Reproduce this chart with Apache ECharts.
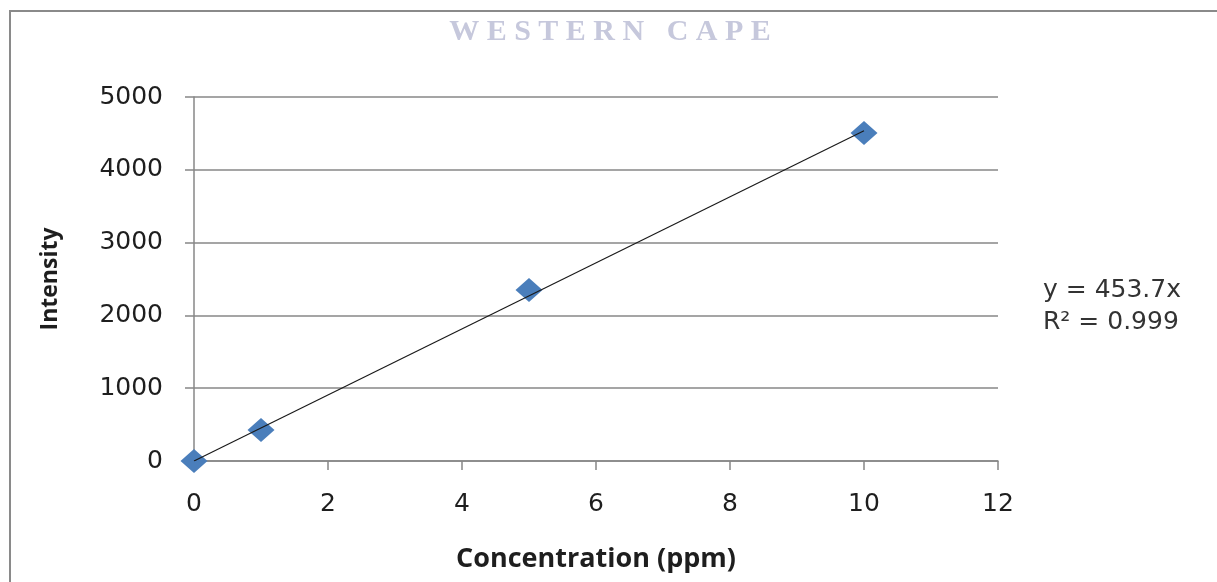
<!DOCTYPE html>
<html>
<head>
<meta charset="utf-8">
<title>Calibration curve</title>
<script src="https://cdn.jsdelivr.net/npm/echarts@6/dist/echarts.min.js"></script>
<style>
  html, body { margin: 0; padding: 0; background: #ffffff; }
  #chart { width: 1217px; height: 582px; }
</style>
</head>
<body>
<div id="chart"></div>
<script>
// Standards: concentration (ppm) and measured intensity
const concentrations = [0, 1, 5, 10];
const intensities = [0, 426, 2349, 4505];

// Linear fit through the origin, as stated in the equation label
const slope = 453.7;
const rSquared = '0.999';
const fitRange = [0, 10];

const xTicks = { min: 0, max: 12, interval: 2 };
const yTicks = { min: 0, max: 5000, interval: 1000 };

const chart = echarts.init(document.getElementById('chart'), null, { renderer: 'canvas' });

const points = concentrations.map((c, i) => [c, intensities[i]]);
const fitLine = fitRange.map(x => [x, slope * x]);

const axisGrey = '#878787';
const textColor = '#1e1e1e';

chart.setOption({
  backgroundColor: '#ffffff',
  animation: false,
  grid: { left: 194, right: 219, top: 97, bottom: 121, containLabel: false, outerBoundsMode: 'none' },
  graphic: [
    {
      type: 'rect',
      shape: { x: 10, y: 11, width: 1260, height: 640 },
      style: { fill: 'none', stroke: '#8a8a8a', lineWidth: 2 },
      silent: true
    },
    {
      type: 'text',
      x: 610, y: 32,
      style: {
        text: 'W E S T E R N   C A P E',
        font: 'bold 30px "Liberation Serif", "DejaVu Serif", serif',
        fill: '#c6c8dc',
        align: 'center',
        verticalAlign: 'middle'
      },
      silent: true
    },
    {
      type: 'text',
      x: 1043, y: 290,
      style: {
        text: 'y = ' + slope + 'x',
        font: '25px "DejaVu Sans", sans-serif',
        fill: '#333333',
        align: 'left',
        verticalAlign: 'middle'
      }
    },
    {
      type: 'text',
      x: 1043, y: 322,
      style: {
        text: 'R² = ' + rSquared,
        font: '25px "DejaVu Sans", sans-serif',
        fill: '#333333',
        align: 'left',
        verticalAlign: 'middle'
      }
    }
  ],
  xAxis: {
    type: 'value',
    min: xTicks.min, max: xTicks.max, interval: xTicks.interval,
    name: 'Concentration (ppm)',
    nameLocation: 'middle',
    nameGap: 85,
    nameTextStyle: { fontFamily: '"Open Sans", sans-serif', fontWeight: 'bold', fontSize: 27, color: textColor },
    axisLine: { show: true, onZero: false, lineStyle: { color: axisGrey, width: 1.5 } },
    axisTick: { show: true, inside: false, length: 9, lineStyle: { color: axisGrey, width: 1.5 } },
    axisLabel: { margin: 31, fontFamily: '"DejaVu Sans", sans-serif', fontSize: 25, color: textColor },
    splitLine: { show: false }
  },
  yAxis: {
    type: 'value',
    min: yTicks.min, max: yTicks.max, interval: yTicks.interval,
    name: 'Intensity',
    nameLocation: 'middle',
    nameGap: 132,
    nameTextStyle: { fontFamily: '"Liberation Sans Narrow", "Open Sans", sans-serif', fontWeight: 'bold', fontSize: 23, color: textColor },
    axisLine: { show: true, lineStyle: { color: axisGrey, width: 1.5 } },
    axisTick: { show: true, inside: false, length: 9, lineStyle: { color: axisGrey, width: 1.5 } },
    axisLabel: {
      margin: 31, fontFamily: '"DejaVu Sans", sans-serif', fontSize: 25, color: textColor,
      formatter: v => String(v)
    },
    splitLine: { show: true, lineStyle: { color: axisGrey, width: 1.5 } }
  },
  series: [
    {
      name: 'Standards',
      type: 'scatter',
      data: points,
      symbol: 'diamond',
      symbolSize: [27, 24],
      itemStyle: { color: '#4a7ebb', opacity: 1 },
      z: 2
    },
    {
      name: 'Linear fit',
      type: 'line',
      data: fitLine,
      showSymbol: false,
      symbol: 'none',
      lineStyle: { color: '#1a1a1a', width: 1.2 },
      z: 3
    }
  ]
});
</script>
</body>
</html>
